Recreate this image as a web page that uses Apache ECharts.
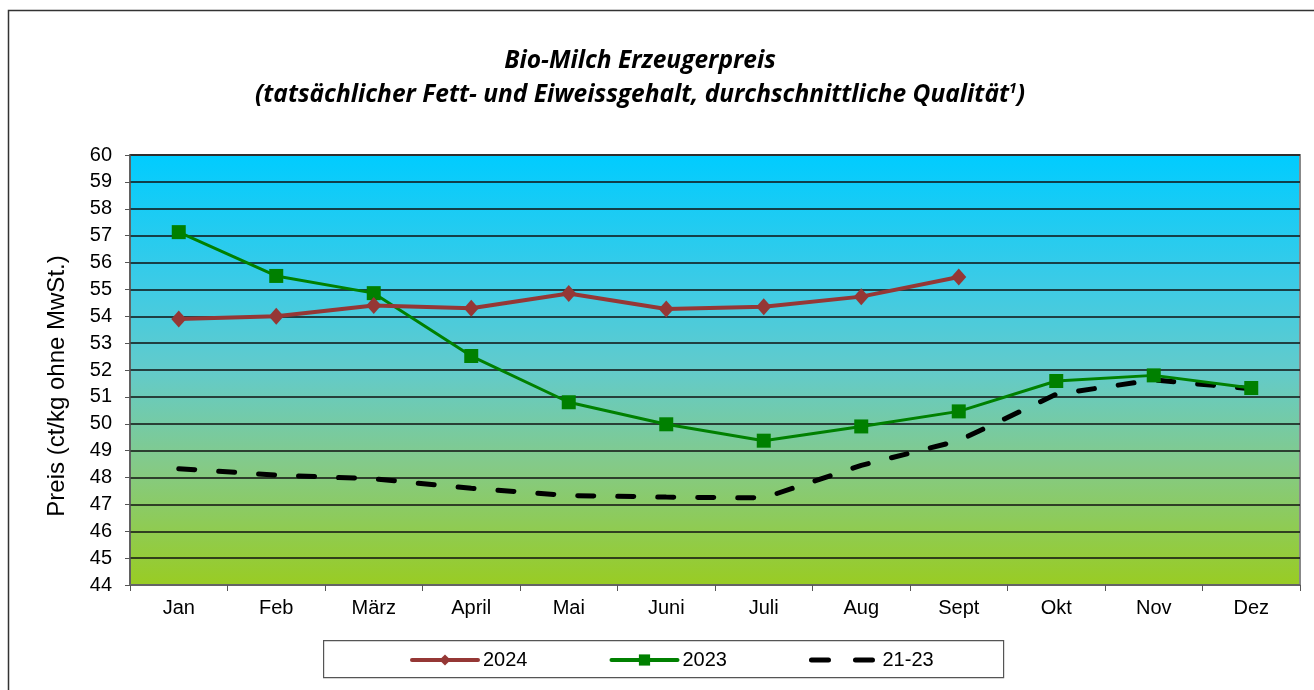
<!DOCTYPE html>
<html>
<head>
<meta charset="utf-8">
<script src="https://cdn.jsdelivr.net/npm/echarts@6/dist/echarts.min.js"></script>
<style>html,body{margin:0;padding:0;background:#fff;}#c{width:1314px;height:690px;}</style>
</head>
<body>
<div id="c"></div>
<script>
const months = ['Jan','Feb','März','April','Mai','Juni','Juli','Aug','Sept','Okt','Nov','Dez'];
const s2024 = [53.9, 54.0, 54.4, 54.3, 54.85, 54.27, 54.35, 54.73, 55.46, null, null, null];
const s2023 = [57.13, 55.5, 54.86, 52.52, 50.8, 49.98, 49.37, 49.9, 50.46, 51.59, 51.8, 51.33];
const s2123 = [48.33, 48.09, 47.95, 47.6, 47.33, 47.27, 47.24, 48.45, 49.37, 51.1, 51.63, 51.3];
const yTicks = {min: 44, max: 60, step: 1};

const titleFont = 'italic bold 24.5px "Open Sans"';
const chart = echarts.init(document.getElementById('c'));
chart.setOption({
  animation: false,
  backgroundColor: '#fff',
  graphic: [
    {type: 'rect', left: 6, top: 8, shape: {width: 1400, height: 800}, style: {fill: 'none', stroke: '#333', lineWidth: 1.5}, z: 0},
    {type: 'rect', left: 323, top: 640, shape: {width: 680, height: 37}, style: {fill: '#fff', stroke: '#555', lineWidth: 1.2}, z: 0},
    {type: 'text', x: 640, y: 61, style: {text: 'Bio-Milch Erzeugerpreis', font: titleFont, fill: '#000', align: 'center', verticalAlign: 'middle'}},
    {type: 'text', x: 640, y: 95, style: {
      text: '(tatsächlicher Fett- und Eiweissgehalt, durchschnittliche Qualität{sup|1})',
      font: titleFont, fill: '#000', align: 'center', verticalAlign: 'middle',
      rich: {sup: {font: 'italic bold 14px "Open Sans"', fill: '#000', verticalAlign: 'top', padding: [0,0,9,0]}}
    }},
    {type: 'text', x: 57, y: 386, rotation: Math.PI / 2, style: {text: 'Preis (ct/kg ohne MwSt.)', font: '24px "Liberation Sans"', fill: '#000', align: 'center', verticalAlign: 'middle'}}
  ],
  grid: {
    left: 130, right: 14, top: 155, bottom: 105,
    show: true,
    borderColor: '#888', borderWidth: 2,
    backgroundColor: {type: 'linear', x: 0, y: 0, x2: 0, y2: 1, colorStops: [
      {offset: 0, color: '#00CCFF'},
      {offset: 0.3, color: '#3CCBE6'},
      {offset: 0.5, color: '#62CBCB'},
      {offset: 0.72, color: '#84CA88'},
      {offset: 1, color: '#99CC22'}
    ]}
  },
  legend: {
    left: 405, top: 645,
    itemWidth: 66, itemHeight: 14, itemGap: 82,
    textStyle: {fontFamily: 'Liberation Sans', fontSize: 20, color: '#000'},
    lineStyle: {width: 'inherit'},
    data: [
      {name: '2024', lineStyle: {width: 4, cap: 'round'}},
      {name: '2023', lineStyle: {width: 4, cap: 'round'}},
      {name: '21-23', itemStyle: {opacity: 0}, lineStyle: {width: 5, type: [17, 27], cap: 'round'}}
    ]
  },
  xAxis: {
    type: 'category', data: months, boundaryGap: true,
    axisLine: {lineStyle: {color: '#777', width: 1.5}},
    axisTick: {show: true, length: 6, lineStyle: {color: '#555'}},
    axisLabel: {fontFamily: 'Liberation Sans', fontSize: 20, color: '#000', margin: 13},
    splitLine: {show: false}
  },
  yAxis: {
    type: 'value', min: yTicks.min, max: yTicks.max, interval: yTicks.step,
    axisLine: {show: true, lineStyle: {color: '#555', width: 1.5}},
    axisTick: {show: true, length: 5, lineStyle: {color: '#555'}},
    axisLabel: {fontFamily: 'Liberation Sans', fontSize: 20, color: '#000', margin: 18},
    splitLine: {lineStyle: {color: '#111', width: 1.5}}
  },
  series: [
    {name: '2024', type: 'line', data: s2024, symbol: 'diamond', symbolSize: [15, 17],
     lineStyle: {color: '#953735', width: 4}, itemStyle: {color: '#953735'}, z: 5},
    {name: '2023', type: 'line', data: s2023, symbol: 'rect', symbolSize: 14,
     lineStyle: {color: '#008000', width: 3}, itemStyle: {color: '#008000'}, z: 4},
    {name: '21-23', type: 'line', data: s2123, symbol: 'none',
     lineStyle: {color: '#000', width: 5, type: [16, 24], cap: 'round'}, itemStyle: {color: '#000'}, z: 3}
  ]
});
</script>
</body>
</html>
